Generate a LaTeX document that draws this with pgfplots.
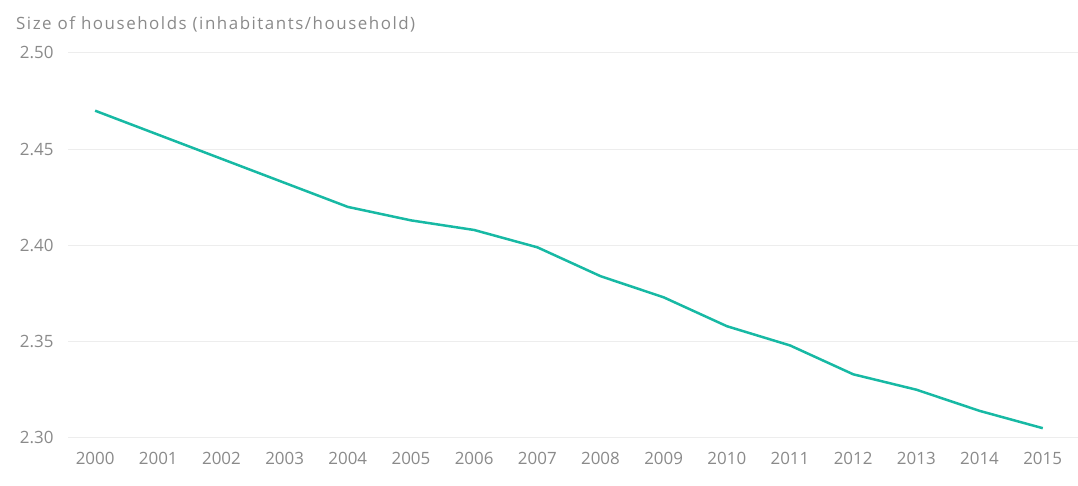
\documentclass[border=0pt]{standalone}
\usepackage{pgfplots}
\pgfplotsset{compat=1.18}
\usepackage{fontspec}
\setmainfont{Open Sans}
\newfontfamily\titlefont[LetterSpace=9]{Open Sans}
\definecolor{teal1}{HTML}{17B9A4}
\definecolor{txtgray}{HTML}{8A8A8A}
\definecolor{gridgray}{HTML}{EDEDED}
\begin{document}
\begin{tikzpicture}
\begin{axis}[
    scale only axis,
    width=1010bp,
    height=385bp,
    at={(0,0)}, anchor=south west,
    xmin=1999.57, xmax=2015.55,
    ymin=2.30, ymax=2.50,
    ytick={2.30,2.35,2.40,2.45,2.50},
    xtick={2000,...,2015},
    axis line style={draw=none},
    major tick length=0pt,
    ymajorgrids,
    grid style={gridgray, line width=1bp},
    tick label style={font=\fontsize{17}{20}\selectfont, text=txtgray},
    /pgf/number format/assume math mode=true,
    yticklabel style={/pgf/number format/.cd, fixed, fixed zerofill, precision=2},
    xticklabel={\pgfmathprintnumber[1000 sep={}]{\tick}},
    yticklabel shift=11bp,
    xticklabel shift=11bp,
    clip=false,
]
\addplot[teal1, line width=2.5bp] coordinates {
(2000,2.470) (2001,2.4575) (2002,2.445) (2003,2.4325) (2004,2.420)
(2005,2.413) (2006,2.408) (2007,2.399) (2008,2.384) (2009,2.373)
(2010,2.358) (2011,2.348) (2012,2.333) (2013,2.325) (2014,2.314)
(2015,2.305)
};
\node[anchor=base west, text=txtgray, font=\titlefont\fontsize{17}{20}\selectfont, inner sep=0pt]
  at ([xshift=-52bp, yshift=23bp]rel axis cs:0,1) {Size of households (inhabitants/household)};
\end{axis}
\path (-68bp,-48bp) rectangle (1010bp,438bp);
\end{tikzpicture}
\end{document}
